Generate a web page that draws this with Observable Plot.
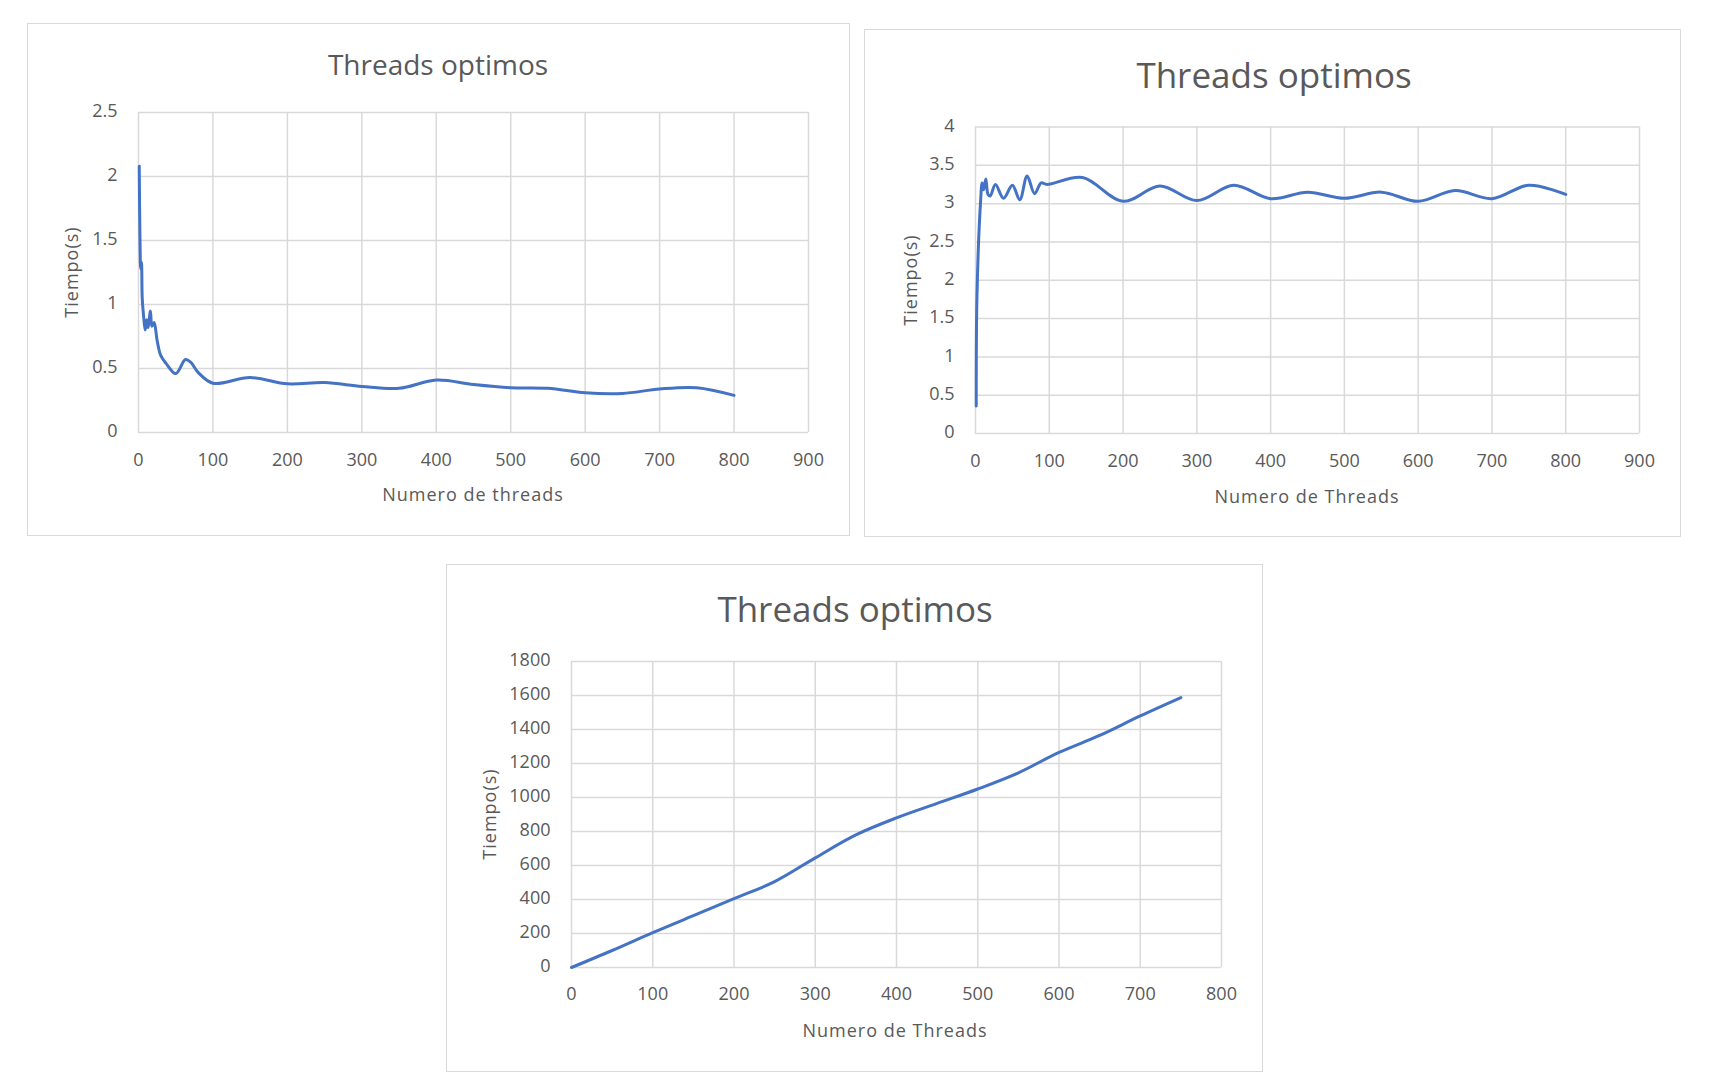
<!DOCTYPE html>
<html><head><meta charset="utf-8">
<script src="https://cdn.jsdelivr.net/npm/d3@7"></script>
<script src="https://cdn.jsdelivr.net/npm/@observablehq/plot@0.6"></script>
<style>
html,body{margin:0;padding:0;background:#fff;width:1709px;height:1092px;overflow:hidden;font-family:"Open Sans",sans-serif;color:#595959}
.panel{position:absolute;box-sizing:border-box;border:1.5px solid #d9d9d9;background:#fff}
.plot{position:absolute;overflow:visible}
.lbl{position:absolute;transform:translate(-50%,-50%);white-space:nowrap;line-height:1;color:#595959}
.ylbl{transform:translate(-50%,-50%) rotate(-90deg)}
</style></head><body>
<script>
// ---------- data ----------
const chartTitle = "Threads optimos";
const yTitle = "Tiempo(s)";
const xTitle1 = "Numero de threads";
const xTitle2 = "Numero de Threads";
const xTitle3 = "Numero de Threads";

const threads1 = [1,2,3,4,5,7,9,11,13,16,18,21,25,30,37,50,63,70,80,100,150,200,250,300,350,400,450,500,550,600,650,700,750,800];
const tiempo1  = [2.08,1.5,1.28,1.33,1.05,0.9,0.8,0.88,0.82,0.95,0.83,0.86,0.72,0.6,0.54,0.46,0.57,0.55,0.47,0.385,0.43,0.38,0.39,0.36,0.345,0.41,0.375,0.35,0.345,0.31,0.305,0.34,0.35,0.29];

const threads2 = [1,2,7,9,11,14,17,20,27,38,50,60,70,80,89,97,145,200,250,300,350,400,450,500,550,600,650,700,750,800];
const tiempo2  = [0.36,1.8,3.05,3.27,3.18,3.32,3.12,3.1,3.25,3.07,3.24,3.05,3.36,3.13,3.27,3.25,3.34,3.03,3.23,3.04,3.24,3.065,3.15,3.07,3.15,3.03,3.17,3.065,3.24,3.12];

const threads3 = [0,50,100,150,200,250,300,350,400,450,500,550,600,650,700,750];
const tiempo3  = [0,100,205,305,405,505,645,780,880,965,1050,1145,1265,1365,1480,1588];

const xTicks900 = [0,100,200,300,400,500,600,700,800,900];
const xTicks800 = [0,100,200,300,400,500,600,700,800];
const yTicks1 = [0,0.5,1,1.5,2,2.5];
const yTicks2 = [0,0.5,1,1.5,2,2.5,3,3.5,4];
const yTicks3 = [0,200,400,600,800,1000,1200,1400,1600,1800];

// ---------- drawing ----------
const GRID = "#d9d9d9", LINE = "#4472C4", TEXT = "#595959";
const fmt = d => String(d);

function addLabel(text, x, y, size, rotate, spacing) {
  const d = document.createElement("div");
  d.className = "lbl" + (rotate ? " ylbl" : "");
  d.textContent = text;
  d.style.left = x + "px";
  d.style.top = y + "px";
  d.style.fontSize = size + "px";
  if (spacing) d.style.letterSpacing = spacing + "px";
  document.body.appendChild(d);
}

function panel(cfg) {
  const box = document.createElement("div");
  box.className = "panel";
  Object.assign(box.style, {left: cfg.left + "px", top: cfg.top + "px", width: cfg.w + "px", height: cfg.h + "px"});
  document.body.appendChild(box);

  const data = cfg.xs.map((x, i) => ({x, y: cfg.ys[i]}));
  const svg = Plot.plot({
    width: cfg.w, height: cfg.h,
    marginLeft: cfg.mL, marginRight: cfg.mR, marginTop: cfg.mT, marginBottom: cfg.mB,
    style: {fontFamily: '"Open Sans", sans-serif', fontSize: "18px", color: TEXT, background: "transparent", overflow: "visible"},
    x: {domain: [0, cfg.xTicks[cfg.xTicks.length - 1]]},
    y: {domain: [0, cfg.yTicks[cfg.yTicks.length - 1]]},
    marks: [
      Plot.gridX(cfg.xTicks, {stroke: GRID, strokeOpacity: 1, strokeWidth: 1.5}),
      Plot.gridY(cfg.yTicks, {stroke: GRID, strokeOpacity: 1, strokeWidth: 1.5}),
      Plot.axisX(cfg.xTicks, {tickSize: 0, tickPadding: cfg.xPad, tickFormat: fmt, fontSize: 18, label: null, fill: TEXT}),
      Plot.axisY(cfg.yTicks, {tickSize: 0, tickPadding: 21, dy: -1, tickFormat: fmt, fontSize: 18, label: null, fill: TEXT}),
      Plot.line(data, {x: "x", y: "y", stroke: LINE, strokeWidth: 3, curve: "catmull-rom"})
    ]
  });
  svg.classList.add("plot");
  svg.style.left = cfg.left + "px";
  svg.style.top = cfg.top + "px";
  document.body.appendChild(svg);

  addLabel(chartTitle, cfg.title[0], cfg.title[1], cfg.titleSize, false, 0);
  addLabel(cfg.xTitle, cfg.xl[0], cfg.xl[1], 18, false, 1);
  addLabel(yTitle, cfg.yl[0], cfg.yl[1], 18, true, 1);
}

panel({left: 27, top: 23, w: 823, h: 513, mL: 111, mR: 42, mT: 89, mB: 104, xPad: 21,
  xs: threads1, ys: tiempo1, xTicks: xTicks900, yTicks: yTicks1,
  title: [438, 64], titleSize: 28, xTitle: xTitle1, xl: [473, 494], yl: [71, 272]});

panel({left: 864, top: 29, w: 817, h: 508, mL: 111, mR: 42, mT: 97.5, mB: 104, xPad: 21,
  xs: threads2, ys: tiempo2, xTicks: xTicks900, yTicks: yTicks2,
  title: [1274, 74], titleSize: 35, xTitle: xTitle2, xl: [1307, 496], yl: [910, 280]});

panel({left: 446, top: 564, w: 817, h: 508, mL: 125, mR: 42, mT: 97, mB: 105, xPad: 20,
  xs: threads3, ys: tiempo3, xTicks: xTicks800, yTicks: yTicks3,
  title: [855, 608], titleSize: 35, xTitle: xTitle3, xl: [895, 1030], yl: [489, 814]});
</script>
</body></html>
